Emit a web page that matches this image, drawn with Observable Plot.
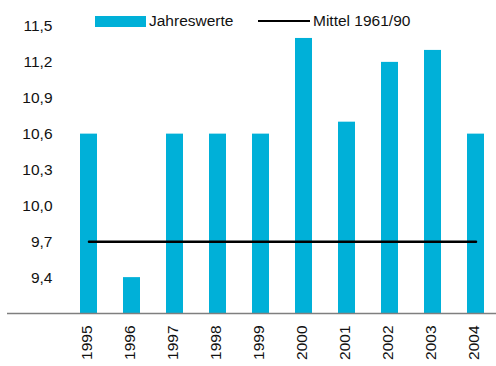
<!DOCTYPE html>
<html>
<head>
<meta charset="utf-8">
<script src="https://cdn.jsdelivr.net/npm/d3@7"></script>
<script src="https://cdn.jsdelivr.net/npm/@observablehq/plot@0.6"></script>
<style>
  html, body { margin: 0; padding: 0; background: #fff; }
  #chart { position: relative; width: 496px; height: 366px; font-family: "Liberation Sans", Arial, sans-serif; }
  #chart svg { display: block; }
  .legend { position: absolute; top: 0; left: 0; width: 496px; height: 40px; font-size: 15.5px; color: #111; }
  .legend .item { position: absolute; top: 13px; display: flex; align-items: center; height: 16px; }
  .legend .bar { width: 51px; height: 11px; background: #00b0d8; margin-right: 3px; }
  .legend .line { width: 52px; height: 2.5px; background: #000; margin-right: 3px; }
</style>
</head>
<body>
<div id="chart"></div>
<script>
// Annual mean values per year and the 1961/90 reference mean
const years = ["1995", "1996", "1997", "1998", "1999", "2000", "2001", "2002", "2003", "2004"];
const annualValues = [10.6, 9.4, 10.6, 10.6, 10.6, 11.4, 10.7, 11.2, 11.3, 10.6];
const referenceMean = 9.7;
const yTicks = [9.4, 9.7, 10.0, 10.3, 10.6, 10.9, 11.2, 11.5];
const yBase = 9.1;

const barColor = "#00b0d8";

const rows = years.map((year, i) => ({year, value: annualValues[i], mean: referenceMean}));
const fmt = d => d.toFixed(1).replace(".", ",");

const plot = Plot.plot({
  width: 496,
  height: 366,
  marginTop: 26,
  marginBottom: 53,
  marginLeft: 7,
  marginRight: 0,
  style: {fontFamily: "Liberation Sans, Arial, sans-serif", fontSize: "15.5px", color: "#111", background: "#fff"},
  x: {domain: years, range: [66, 499], paddingInner: 0.6, paddingOuter: 0.3},
  y: {domain: [yBase, 11.5]},
  marks: [
    Plot.barY(rows, {x: "year", y1: yBase, y2: "value", fill: barColor}),
    Plot.ruleY([yBase], {stroke: "#7f7f7f", strokeWidth: 1.5}),
    Plot.lineY(rows, {x: "year", y: "mean", stroke: "#000", strokeWidth: 2.5}),
    Plot.axisY({ticks: yTicks, tickFormat: fmt, tickSize: 0, tickPadding: 0, dx: 45, label: null, fontSize: 15.5}),
    Plot.axisX({tickRotate: -90, tickSize: 0, tickPadding: 12, label: null, fontSize: 15.5, dx: -2})
  ]
});

const chart = document.getElementById("chart");
chart.appendChild(plot);

// Legend overlaid at the top of the chart
const legend = document.createElement("div");
legend.className = "legend";
legend.innerHTML = `
  <div class="item" style="left:95px"><span class="bar"></span><span>Jahreswerte</span></div>
  <div class="item" style="left:258px"><span class="line"></span><span>Mittel 1961/90</span></div>`;
chart.appendChild(legend);
</script>
</body>
</html>
